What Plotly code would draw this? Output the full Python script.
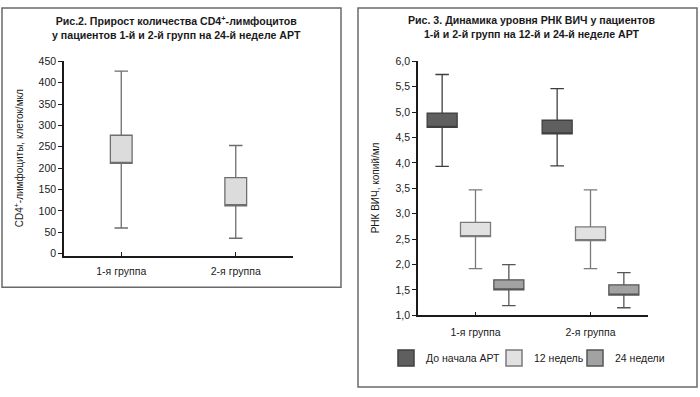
import plotly.graph_objects as go

# ---------------- data ----------------
groups = ["1-я группа", "2-я группа"]

# Fig 2: CD4+ increase
cd4_q1 = [211, 112]
cd4_q3 = [277, 178]
cd4_min = [60, 36]
cd4_max = [427, 253]

# Fig 3: HIV RNA dynamics
series_names = ["До начала АРТ", "12 недель", "24 недели"]
rna_q1 = [[4.70, 4.57], [2.55, 2.47], [1.50, 1.40]]
rna_q3 = [[4.98, 4.84], [2.83, 2.74], [1.70, 1.60]]
rna_min = [[3.93, 3.94], [1.92, 1.92], [1.19, 1.15]]
rna_max = [[5.74, 5.46], [3.47, 3.47], [2.00, 1.84]]

left_title = "<b>Рис.2. Прирост количества CD4<sup>+</sup>-лимфоцитов<br>у пациентов 1-й и 2-й групп на 24-й неделе АРТ</b>"
right_title = "<b>Рис. 3. Динамика уровня РНК ВИЧ у пациентов<br>1-й и 2-й групп на 12-й и 24-й неделе АРТ</b>"
left_ytitle = "CD4<sup>+</sup>-лимфоциты, клеток/мкл"
right_ytitle = "РНК ВИЧ, копий/мл"

fills = ["#5f5f5f", "#e1e1e1", "#a2a2a2"]
edges = ["#3f3f3f", "#7a7a7a", "#555555"]

W, H = 700, 397
FONT_R = "Liberation Sans, Arial, sans-serif"
TXT = "#1a1a1a"

def px(x):
    return x / W

def py(y):
    return 1 - y / H

fig = go.Figure()

fig.add_trace(go.Box(
    x=groups, q1=cd4_q1, median=cd4_q1, q3=cd4_q3,
    lowerfence=cd4_min, upperfence=cd4_max,
    boxpoints=False, width=0.19, whiskerwidth=0.62,
    fillcolor="#dcdcdc", line=dict(color="#6e6e6e", width=1.3),
    xaxis="x", yaxis="y", showlegend=False, hoverinfo="skip",
))

for i, name in enumerate(series_names):
    fig.add_trace(go.Box(
        x=groups, q1=rna_q1[i], median=rna_q1[i], q3=rna_q3[i],
        lowerfence=rna_min[i], upperfence=rna_max[i],
        boxpoints=False, whiskerwidth=0.45,
        fillcolor=fills[i], line=dict(color=edges[i], width=1.3),
        xaxis="x2", yaxis="y2", showlegend=False, name=name,
        offsetgroup=str(i), hoverinfo="skip",
    ))

legend_ids = ["legend", "legend2", "legend3"]
for i, name in enumerate(series_names):
    fig.add_trace(go.Scatter(
        x=[None], y=[None], mode="markers", name=name,
        marker=dict(symbol="square", size=16, color=fills[i],
                    line=dict(color=edges[i], width=1.5)),
        xaxis="x2", yaxis="y2", showlegend=True, legend=legend_ids[i],
        hoverinfo="skip",
    ))

axis_common = dict(showgrid=False, zeroline=False, showline=True,
                   linecolor=TXT, linewidth=1.5,
                   tickcolor=TXT, tickwidth=1.2,
                   tickfont=dict(family=FONT_R, size=10.5, color=TXT))

def leg(x_left):
    return dict(orientation="h", x=px(x_left), xanchor="left",
                y=py(363), yanchor="middle",
                font=dict(family=FONT_R, size=10.5, color=TXT),
                bgcolor="rgba(0,0,0,0)", itemclick=False,
                itemdoubleclick=False)

fig.update_layout(
    width=W, height=H,
    margin=dict(l=0, r=0, t=0, b=0),
    paper_bgcolor="white", plot_bgcolor="white",
    separators=", ",
    boxmode="group", boxgap=0.13, boxgroupgap=0.1,
    xaxis=dict(domain=[px(64), px(293)], anchor="y", range=[-0.5, 1.5],
               type="category", ticks="inside", ticklen=4,
               ticklabelstandoff=4, **axis_common),
    yaxis=dict(domain=[py(258), py(57)], anchor="x", range=[-6, 450],
               tick0=0, dtick=50, ticks="outside", ticklen=4, **axis_common),
    xaxis2=dict(domain=[px(418), px(648)], anchor="y2", range=[-0.5, 1.5],
                type="category", ticks="inside", ticklen=4,
                ticklabelstandoff=6, **axis_common),
    yaxis2=dict(domain=[py(319), py(57)], anchor="x2", range=[1, 6],
                tick0=1, dtick=0.5, tickformat=".1f", ticks="outside",
                ticklen=4, **axis_common),
    legend=leg(386),
    legend2=leg(494),
    legend3=leg(575),
    shapes=[
        dict(type="rect", xref="paper", yref="paper",
             x0=px(2), x1=px(341), y0=py(290), y1=py(2),
             line=dict(color="#6a6a6a", width=1.5)),
        dict(type="rect", xref="paper", yref="paper",
             x0=px(358), x1=px(697), y0=py(393), y1=py(2),
             line=dict(color="#6a6a6a", width=1.5)),
    ],
    annotations=[
        dict(text=left_title, xref="paper", yref="paper", x=px(176), y=py(22),
             xanchor="center", yanchor="middle", showarrow=False,
             font=dict(family=FONT_R, size=10.6, color=TXT)),
        dict(text=right_title, xref="paper", yref="paper", x=px(531), y=py(22),
             xanchor="center", yanchor="middle", showarrow=False,
             font=dict(family=FONT_R, size=10.6, color=TXT)),
        dict(text=left_ytitle, xref="paper", yref="paper", x=px(19), y=py(157),
             xanchor="center", yanchor="middle", showarrow=False, textangle=-90,
             font=dict(family=FONT_R, size=10, color=TXT)),
        dict(text=right_ytitle, xref="paper", yref="paper", x=px(375), y=py(188),
             xanchor="center", yanchor="middle", showarrow=False, textangle=-90,
             font=dict(family=FONT_R, size=10, color=TXT)),
    ],
)

fig.write_html("out.html", config={"displayModeBar": False},
               post_script="document.body.style.margin='0px';")
